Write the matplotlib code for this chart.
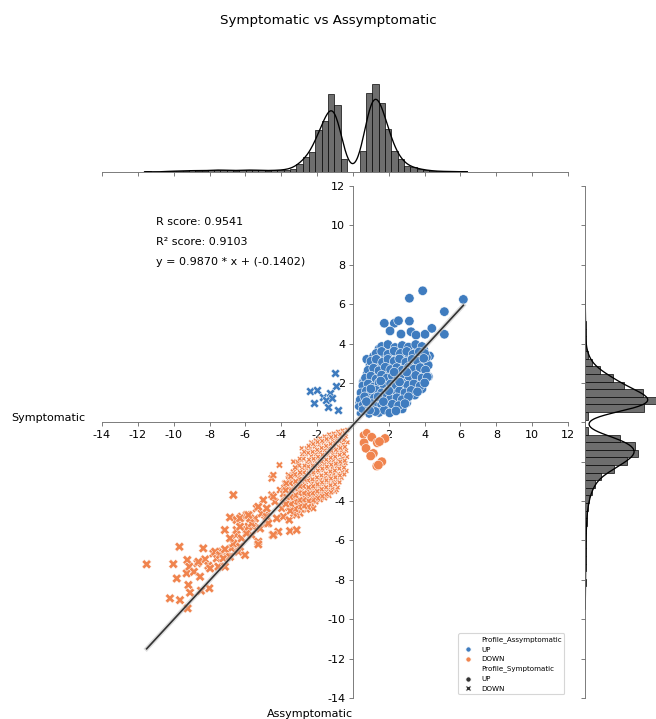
import numpy as np
import matplotlib
matplotlib.use("Agg")
import matplotlib.pyplot as plt
from matplotlib.lines import Line2D
from matplotlib.ticker import FuncFormatter, MultipleLocator

# ---- data ----
# hue = Profile_Assymptomatic, style = Profile_Symptomatic
asym_up_sym_up = [  # blue circles
    (3.89, 6.68), (3.15, 6.30), (6.16, 6.24), (5.10, 5.62), (5.10, 4.47), (1.75, 5.03),
    (2.31, 5.03), (2.54, 5.16), (3.15, 5.14), (2.07, 4.64), (2.68, 4.48), (4.40, 4.77),
    (3.24, 4.60), (4.02, 4.47), (3.52, 4.43), (0.77, 3.20), (0.58, 2.06), (3.00, 0.99),
    (4.27, 3.37), (4.21, 2.32),
    (0.45, 0.62), (0.72, 0.70), (1.00, 0.68), (1.30, 0.72), (1.60, 0.66), (1.90, 0.70), (2.20, 0.65),
    (2.50, 0.72), (2.75, 0.68),
    (0.35, 1.00), (0.60, 1.05), (0.88, 0.98), (1.15, 1.08), (1.45, 0.98), (1.75, 1.08), (2.05, 1.00),
    (2.35, 1.05), (2.65, 0.98), (2.95, 1.10),
    (0.50, 1.35), (0.80, 1.40), (1.08, 1.36), (1.35, 1.42), (1.65, 1.35), (1.95, 1.40), (2.25, 1.34),
    (2.55, 1.42), (2.85, 1.36), (3.20, 1.45), (3.45, 1.38),
    (0.60, 1.70), (0.90, 1.75), (1.20, 1.68), (1.50, 1.78), (1.85, 1.70), (2.15, 1.76), (2.50, 1.68),
    (2.85, 1.76), (3.15, 1.70), (3.50, 1.78), (3.85, 1.70),
    (0.65, 2.10), (0.95, 2.15), (1.25, 2.05), (1.60, 2.12), (1.90, 2.06), (2.25, 2.15), (2.60, 2.08),
    (2.95, 2.15), (3.30, 2.08), (3.65, 2.14), (3.95, 2.10),
    (0.80, 2.48), (1.10, 2.52), (1.40, 2.45), (1.75, 2.55), (2.05, 2.48), (2.40, 2.42), (2.70, 2.50),
    (3.05, 2.45), (3.35, 2.55), (3.70, 2.48), (4.05, 2.50),
    (0.95, 2.90), (1.30, 2.95), (1.60, 2.88), (1.95, 2.98), (2.25, 2.90), (2.55, 2.95), (2.90, 2.88),
    (3.25, 2.95), (3.55, 2.90), (3.90, 2.98), (4.20, 2.90),
    (1.15, 3.35), (1.45, 3.30), (1.80, 3.38), (2.10, 3.30), (2.45, 3.38), (2.80, 3.30), (3.15, 3.38),
    (3.50, 3.30), (3.80, 3.38), (4.10, 3.30),
    (1.45, 3.72), (1.80, 3.70), (2.15, 3.75), (2.50, 3.68), (2.85, 3.75), (3.20, 3.70), (3.60, 3.75),
    (3.95, 3.68),
    (1.60, 3.85), (1.95, 3.95), (2.35, 3.80), (2.75, 3.90), (3.10, 3.82), (3.50, 3.95), (3.85, 3.85),
    (1.30, 3.50), (1.60, 3.60), (1.95, 3.45), (2.30, 3.62), (2.65, 3.50), (3.00, 3.60), (3.35, 3.45),
    (3.70, 3.58), (4.00, 3.50),
    (1.00, 3.10), (1.30, 3.20), (1.65, 3.05), (1.95, 3.20), (2.30, 3.10), (2.60, 3.22), (2.95, 3.05),
    (3.30, 3.20), (3.60, 3.10), (3.95, 3.25),
    (0.85, 2.65), (1.15, 2.75), (1.45, 2.62), (1.80, 2.80), (2.10, 2.68), (2.45, 2.78), (2.75, 2.65),
    (3.10, 2.80), (3.40, 2.70), (3.75, 2.78), (4.05, 2.65),
    (0.70, 2.25), (1.00, 2.35), (1.30, 2.20), (1.60, 2.40), (1.90, 2.25), (2.20, 2.35), (2.50, 2.22),
    (2.85, 2.40), (3.15, 2.28), (3.50, 2.38), (3.85, 2.25), (4.15, 2.30),
    (0.55, 1.85), (0.85, 1.95), (1.15, 1.80), (1.45, 2.00), (1.75, 1.85), (2.10, 1.95), (2.40, 1.82),
    (2.75, 2.00), (3.05, 1.88), (3.40, 1.95), (3.75, 1.85), (4.00, 2.00),
    (0.45, 1.50), (0.75, 1.60), (1.00, 1.45), (1.30, 1.62), (1.60, 1.50), (1.95, 1.58), (2.25, 1.45),
    (2.60, 1.60), (2.90, 1.50), (3.25, 1.62), (3.60, 1.55),
    (0.40, 1.15), (0.65, 1.30), (0.90, 1.10), (1.20, 1.25), (1.50, 1.15), (1.80, 1.30), (2.10, 1.20),
    (2.45, 1.25), (2.75, 1.15), (3.10, 1.30),
    (0.30, 0.80), (0.55, 0.90), (0.80, 0.75), (1.05, 0.95), (1.30, 0.80), (1.60, 0.90), (1.90, 0.78),
    (2.20, 0.92), (2.55, 0.85), (2.90, 0.95),
    (0.35, 0.45), (0.60, 0.55), (0.90, 0.42), (1.15, 0.60), (1.45, 0.50), (1.75, 0.62), (2.05, 0.48),
    (2.40, 0.58),
    (0.50, 0.65), (0.75, 1.05), (1.25, 0.55), (1.00, 1.70), (1.40, 1.30), (1.70, 1.05), (0.95, 0.60),
    (2.00, 1.60), (1.55, 2.10), (2.30, 2.55), (2.60, 2.05), (3.00, 2.55),
]

asym_up_sym_down = [  # blue crosses
    (-1.00, 2.52), (-0.94, 1.84), (-2.39, 1.61), (-1.98, 1.64), (-1.69, 1.27), (-1.28, 1.47),
    (-1.50, 1.13), (-2.17, 0.96), (-1.37, 0.76), (-0.81, 0.62), (-1.18, 1.22),
]

asym_down_sym_up = [  # orange circles
    (0.58, -0.65), (0.77, -0.53), (0.62, -1.04), (1.05, -0.76), (0.73, -1.32), (1.36, -1.04),
    (1.14, -1.58), (0.99, -1.71), (1.79, -0.82), (1.61, -2.00), (1.33, -2.22), (1.42, -2.17),
    (1.48, -0.98),
]

asym_down_sym_down = [  # orange crosses
    (-11.51, -7.21), (-10.21, -8.94), (-10.02, -7.20), (-9.83, -7.93), (-9.68, -6.32), (-9.65, -9.03),
    (-9.24, -6.99), (-9.28, -7.67), (-9.18, -8.26), (-9.22, -9.45), (-9.09, -8.65), (-9.13, -7.33),
    (-8.87, -7.59), (-8.68, -7.16), (-8.53, -7.84), (-8.48, -8.55), (-8.35, -6.40), (-8.25, -6.96),
    (-8.07, -7.28), (-8.01, -8.43), (-7.79, -6.66), (-7.60, -6.91), (-7.51, -7.33), (-7.32, -6.57),
    (-7.14, -7.33), (-7.15, -5.47), (-7.00, -6.82), (-6.86, -4.83), (-6.77, -6.40), (-6.67, -3.69),
    (-6.49, -4.96), (-6.52, -5.72), (-6.49, -6.15), (-6.39, -6.57), (-6.21, -4.79), (-6.02, -6.74),
    (-5.93, -5.47), (-5.78, -4.74), (-5.65, -5.72), (-5.56, -5.30), (-5.46, -4.88), (-5.28, -6.06),
    (-5.28, -6.20), (-5.18, -5.39), (-5.37, -4.37), (-4.90, -4.71), (-4.81, -5.13), (-4.53, -3.69),
    (-4.48, -5.72), (-4.53, -2.85), (-4.44, -2.68), (-4.35, -4.03), (-4.16, -5.56), (-4.10, -2.17),
    (-3.97, -4.37), (-3.88, -4.79), (-3.69, -3.27), (-3.55, -4.96), (-3.51, -5.52), (-3.14, -5.47),
    (-2.95, -4.62), (-1.00, -3.52), (-0.91, -3.44),
    (-8.62, -7.08), (-7.97, -7.42), (-7.69, -6.57), (-7.42, -6.74), (-7.23, -6.91), (-7.14, -6.45),
    (-6.86, -6.83), (-6.67, -6.15), (-6.30, -6.32), (-6.86, -5.89), (-6.49, -5.47), (-6.21, -5.89),
    (-5.93, -5.64), (-5.83, -5.30), (-5.65, -5.13), (-5.09, -4.62), (-4.81, -4.79), (-4.72, -5.13),
    (-4.44, -5.72), (-6.30, -4.88), (-5.93, -4.71), (-6.30, -5.30), (-5.74, -4.88),
    (-5.00, -3.95), (-4.44, -3.78), (-4.81, -4.37), (-5.28, -4.29), (-4.07, -3.44), (-3.88, -3.86),
    (-3.51, -4.12), (-3.14, -4.71), (-2.21, -4.37), (-3.79, -3.10), (-3.60, -2.68), (-3.32, -2.00),
    (-2.86, -1.32), (-4.25, -4.88), (-5.83, -4.71),
    # dense core near the origin
    (-0.32, -0.38), (-0.40, -0.72), (-0.30, -1.02), (-0.38, -1.43), (-0.33, -1.76), (-0.41, -2.08),
    (-0.36, -2.47), (-0.58, -0.42), (-0.64, -0.78), (-0.55, -1.12), (-0.62, -1.44), (-0.57, -1.83),
    (-0.66, -2.13), (-0.59, -2.52), (-0.63, -2.82), (-0.83, -0.48), (-0.89, -0.86), (-0.81, -1.22),
    (-0.87, -1.53), (-0.84, -1.92), (-0.90, -2.24), (-0.82, -2.62), (-0.88, -2.93), (-0.85, -3.31),
    (-1.08, -0.57), (-1.13, -0.92), (-1.06, -1.23), (-1.12, -1.62), (-1.09, -1.94), (-1.15, -2.32),
    (-1.07, -2.63), (-1.11, -3.02), (-1.14, -3.36), (-1.33, -0.62), (-1.38, -0.93), (-1.31, -1.32),
    (-1.37, -1.64), (-1.34, -2.02), (-1.40, -2.33), (-1.32, -2.72), (-1.36, -3.04), (-1.39, -3.42),
    (-1.33, -3.73), (-1.58, -0.72), (-1.63, -1.03), (-1.57, -1.42), (-1.62, -1.74), (-1.59, -2.12),
    (-1.65, -2.43), (-1.56, -2.82), (-1.61, -3.14), (-1.64, -3.52), (-1.58, -3.84), (-1.83, -0.82),
    (-1.88, -1.13), (-1.82, -1.52), (-1.87, -1.84), (-1.84, -2.22), (-1.90, -2.53), (-1.81, -2.92),
    (-1.86, -3.24), (-1.89, -3.62), (-1.83, -3.93), (-2.08, -0.92), (-2.13, -1.23), (-2.07, -1.62),
    (-2.12, -1.94), (-2.09, -2.32), (-2.15, -2.63), (-2.06, -3.02), (-2.11, -3.34), (-2.14, -3.72),
    (-2.08, -4.03), (-2.33, -1.02), (-2.38, -1.33), (-2.32, -1.72), (-2.37, -2.04), (-2.34, -2.42),
    (-2.40, -2.73), (-2.31, -3.12), (-2.36, -3.44), (-2.39, -3.82), (-2.33, -4.13), (-2.58, -1.32),
    (-2.63, -1.63), (-2.57, -2.02), (-2.62, -2.34), (-2.59, -2.72), (-2.65, -3.03), (-2.56, -3.42),
    (-2.61, -3.74), (-2.64, -4.12), (-2.58, -4.43), (-2.83, -1.62), (-2.88, -1.93), (-2.82, -2.32),
    (-2.87, -2.64), (-2.84, -3.02), (-2.90, -3.33), (-2.81, -3.72), (-2.86, -4.04), (-2.89, -4.42),
    (-3.08, -2.02), (-3.13, -2.33), (-3.07, -2.72), (-3.12, -3.04), (-3.09, -3.42), (-3.15, -3.73),
    (-3.06, -4.12), (-3.11, -4.44), (-3.33, -2.52), (-3.38, -2.83), (-3.32, -3.22), (-3.37, -3.54),
    (-3.34, -3.92), (-3.40, -4.23), (-3.31, -4.62), (-3.58, -2.92), (-3.63, -3.23), (-3.57, -3.62),
    (-3.62, -3.94), (-3.59, -4.32), (-3.83, -3.32), (-3.88, -3.63), (-3.82, -4.02),
    (-0.47, -0.55), (-0.50, -0.90), (-0.45, -1.25), (-0.49, -1.60), (-0.46, -1.95), (-0.50, -2.30),
    (-0.48, -2.65), (-0.72, -0.60), (-0.75, -0.95), (-0.70, -1.30), (-0.74, -1.65), (-0.71, -2.00),
    (-0.76, -2.35), (-0.73, -2.70), (-0.75, -3.05), (-0.97, -0.70), (-1.00, -1.05), (-0.95, -1.40),
    (-0.99, -1.75), (-0.96, -2.10), (-1.01, -2.45), (-0.98, -2.80), (-1.00, -3.15), (-1.22, -0.75),
    (-1.25, -1.10), (-1.20, -1.45), (-1.24, -1.80), (-1.21, -2.15), (-1.26, -2.50), (-1.23, -2.85),
    (-1.25, -3.20), (-1.22, -3.55), (-1.47, -0.85), (-1.50, -1.20), (-1.45, -1.55), (-1.49, -1.90),
    (-1.46, -2.25), (-1.51, -2.60), (-1.48, -2.95), (-1.50, -3.30), (-1.47, -3.65), (-1.72, -0.95),
    (-1.75, -1.30), (-1.70, -1.65), (-1.74, -2.00), (-1.71, -2.35), (-1.76, -2.70), (-1.73, -3.05),
    (-1.75, -3.40), (-1.72, -3.75), (-1.97, -1.00), (-2.00, -1.40), (-1.95, -1.75), (-1.99, -2.10),
    (-1.96, -2.45), (-2.01, -2.80), (-1.98, -3.15), (-2.00, -3.50), (-1.97, -3.85), (-2.22, -1.10),
    (-2.25, -1.50), (-2.20, -1.85), (-2.24, -2.20), (-2.21, -2.55), (-2.26, -2.90), (-2.23, -3.25),
    (-2.25, -3.60), (-2.22, -3.95), (-2.47, -1.20), (-2.50, -1.55), (-2.45, -1.90), (-2.49, -2.25),
    (-2.46, -2.60), (-2.51, -2.95), (-2.48, -3.30), (-2.50, -3.65), (-2.47, -4.00), (-2.50, -4.30),
    (-2.72, -1.50), (-2.75, -1.85), (-2.70, -2.20), (-2.74, -2.55), (-2.71, -2.90), (-2.76, -3.25),
    (-2.73, -3.60), (-2.75, -3.95), (-2.72, -4.25), (-2.97, -1.85), (-3.00, -2.20), (-2.95, -2.55),
    (-2.99, -2.90), (-2.96, -3.25), (-3.01, -3.60), (-2.98, -3.95), (-3.00, -4.30), (-3.22, -2.30),
    (-3.25, -2.65), (-3.20, -3.00), (-3.24, -3.35), (-3.21, -3.70), (-3.26, -4.05), (-3.23, -4.40),
    (-3.47, -2.75), (-3.50, -3.10), (-3.45, -3.45), (-3.49, -3.80), (-3.46, -4.15), (-3.50, -4.50),
    (-3.72, -3.10), (-3.75, -3.45), (-3.70, -3.80), (-3.74, -4.15),
]

# regression result printed on the chart
slope = 0.9870
intercept = -0.1402
stats_lines = ["R score: 0.9541", "R\u00b2 score: 0.9103", "y = 0.9870 * x + (-0.1402)"]

# marginal histograms (counts per bin)
top_bin_start = -11.626
top_bin_width = 0.353
top_counts = [1, 0, 0, 1, 2, 1, 2, 3, 2, 2, 3, 4, 3, 3, 2, 3, 4, 3, 3, 2, 3,
              3, 4, 6, 14, 26, 35, 72, 88, 134, 115, 22,
              0, 0,
              37, 136, 151, 118, 74, 37, 22, 10, 8, 5, 3,
              2, 1, 1, 1, 0, 1]

right_bin_start = -9.485
right_bin_width = 0.385
right_counts = [1, 1, 1, 2, 1, 2, 2, 3, 2, 3, 4, 5, 6, 9,
                13, 20, 30, 47, 88, 125, 160, 150, 105,
                10, 0, 10,
                178, 213, 175, 118, 85, 45, 20, 10, 4, 2,
                2, 2, 1, 1, 1, 1]

BLUE = "#3f7cbf"
ORANGE = "#f0844e"
HIST_FILL = "#6e6e6e"
AXIS_GRAY = "#707070"


def marker_sizes(pts, d0, d1, smin=12, smax=72):
    d = np.hypot(pts[:, 0], pts[:, 1])
    return smin + (smax - smin) * np.clip((d - d0) / (d1 - d0), 0, 1)


def kde_counts(start, width, counts, grid, bw_adjust=0.7):
    counts = np.asarray(counts, dtype=float)
    centers = start + width * (np.arange(len(counts)) + 0.5)
    n = counts.sum()
    mean = (centers * counts).sum() / n
    std = np.sqrt((counts * (centers - mean) ** 2).sum() / n)
    bw = bw_adjust * std * n ** (-0.2)
    k = np.exp(-0.5 * ((grid[None, :] - centers[:, None]) / bw) ** 2)
    dens = (counts[:, None] * k).sum(0) / (n * bw * np.sqrt(2 * np.pi))
    return dens * n * width


def main():
    plt.rcParams["font.family"] = "DejaVu Sans"

    fig = plt.figure(figsize=(8.2, 8.9875), dpi=80)
    ax = fig.add_axes([0.1555, 0.0292, 0.7104, 0.7121])
    ax_top = fig.add_axes([0.1555, 0.7608, 0.7104, 0.128], sharex=ax)
    ax_right = fig.add_axes([0.8918, 0.0292, 0.1082, 0.7121], sharey=ax)

    uu = np.array(asym_up_sym_up)
    ud = np.array(asym_up_sym_down)
    du = np.array(asym_down_sym_up)
    dd = np.array(asym_down_sym_down)

    # scatter
    ax.scatter(dd[:, 0], dd[:, 1], s=marker_sizes(dd, 3.5, 6.5, 24, 72), c=ORANGE, marker="X",
               edgecolors="white", linewidths=0.4, zorder=2)
    ax.scatter(du[:, 0], du[:, 1], s=marker_sizes(du, 0.4, 1.2, 20, 72), c=ORANGE, marker="o",
               edgecolors="white", linewidths=0.5, zorder=2)
    ax.scatter(ud[:, 0], ud[:, 1], s=65, c=BLUE, marker="X",
               edgecolors="white", linewidths=0.4, zorder=2)
    ax.scatter(uu[:, 0], uu[:, 1], s=marker_sizes(uu, 0.4, 1.3, 20, 72), c=BLUE, marker="o",
               edgecolors="white", linewidths=0.5, zorder=2)

    # regression line
    all_x = np.concatenate([uu[:, 0], ud[:, 0], du[:, 0], dd[:, 0]])
    xs = np.array([all_x.min(), all_x.max()])
    ax.plot(xs, slope * xs + intercept, color="#bbbbbb", lw=4, alpha=0.5, zorder=3)
    ax.plot(xs, slope * xs + intercept, color="#333333", lw=1.5, zorder=3)

    for i, line in enumerate(stats_lines):
        ax.text(-11, 10 - i, line, fontsize=10)

    # axes through the origin
    ax.set_xlim(-14, 12)
    ax.set_ylim(-14, 12)
    fmt = FuncFormatter(lambda v, p: "" if abs(v) < 1e-9 else f"{v:g}")
    for axis in (ax.xaxis, ax.yaxis):
        axis.set_major_locator(MultipleLocator(2))
        axis.set_major_formatter(fmt)
    ax.spines["left"].set_position("zero")
    ax.spines["bottom"].set_position("zero")
    ax.spines["top"].set_visible(False)
    ax.spines["right"].set_visible(False)

    ax.set_xlabel("Assymptomatic", fontsize=10)
    ax.xaxis.set_label_coords(0.446, -0.022)
    ax.set_ylabel("Symptomatic", fontsize=10, rotation=0, va="center", ha="center")
    ax.yaxis.set_label_coords(-0.115, 0.547)

    # legend in seaborn style
    handles = [
        Line2D([], [], ls="", marker="", label="Profile_Assymptomatic"),
        Line2D([], [], ls="", marker="o", color=BLUE, mec="white", ms=5, label="UP"),
        Line2D([], [], ls="", marker="o", color=ORANGE, mec="white", ms=5, label="DOWN"),
        Line2D([], [], ls="", marker="", label="Profile_Symptomatic"),
        Line2D([], [], ls="", marker="o", color="#333333", mec="white", ms=5, label="UP"),
        Line2D([], [], ls="", marker="X", color="#333333", mec="white", ms=5.5, label="DOWN"),
    ]
    ax.legend(handles=handles, loc="lower right", fontsize=6.4)

    # top marginal
    top_edges = top_bin_start + top_bin_width * np.arange(len(top_counts) + 1)
    ax_top.bar(top_edges[:-1], top_counts, width=top_bin_width, align="edge",
               color=HIST_FILL, edgecolor="black", linewidth=0.6)
    gx = np.linspace(top_edges[0], top_edges[-1], 400)
    ax_top.plot(gx, kde_counts(top_bin_start, top_bin_width, top_counts, gx), color="black", lw=1.2)
    ax_top.set_ylim(0, max(top_counts) * 1.05)
    for s in ("left", "top", "right"):
        ax_top.spines[s].set_visible(False)
    ax_top.tick_params(labelbottom=False, left=False, labelleft=False)

    # right marginal
    right_edges = right_bin_start + right_bin_width * np.arange(len(right_counts) + 1)
    ax_right.barh(right_edges[:-1], right_counts, height=right_bin_width, align="edge",
                  color=HIST_FILL, edgecolor="black", linewidth=0.6)
    gy = np.linspace(right_edges[0], right_edges[-1], 400)
    ax_right.plot(kde_counts(right_bin_start, right_bin_width, right_counts, gy), gy, color="black", lw=1.2)
    ax_right.set_xlim(0, max(right_counts))
    for s in ("bottom", "top", "right"):
        ax_right.spines[s].set_visible(False)
    ax_right.tick_params(labelleft=False, bottom=False, labelbottom=False)

    # thin grey axis lines as in the original
    for a in (ax, ax_top, ax_right):
        for sp in a.spines.values():
            sp.set_color(AXIS_GRAY)
        a.tick_params(color=AXIS_GRAY)

    fig.suptitle("Symptomatic vs Assymptomatic", y=0.972, va="center", fontsize=12)
    fig.savefig("out.png", dpi=80)
    plt.close(fig)


if __name__ == "__main__":
    main()
